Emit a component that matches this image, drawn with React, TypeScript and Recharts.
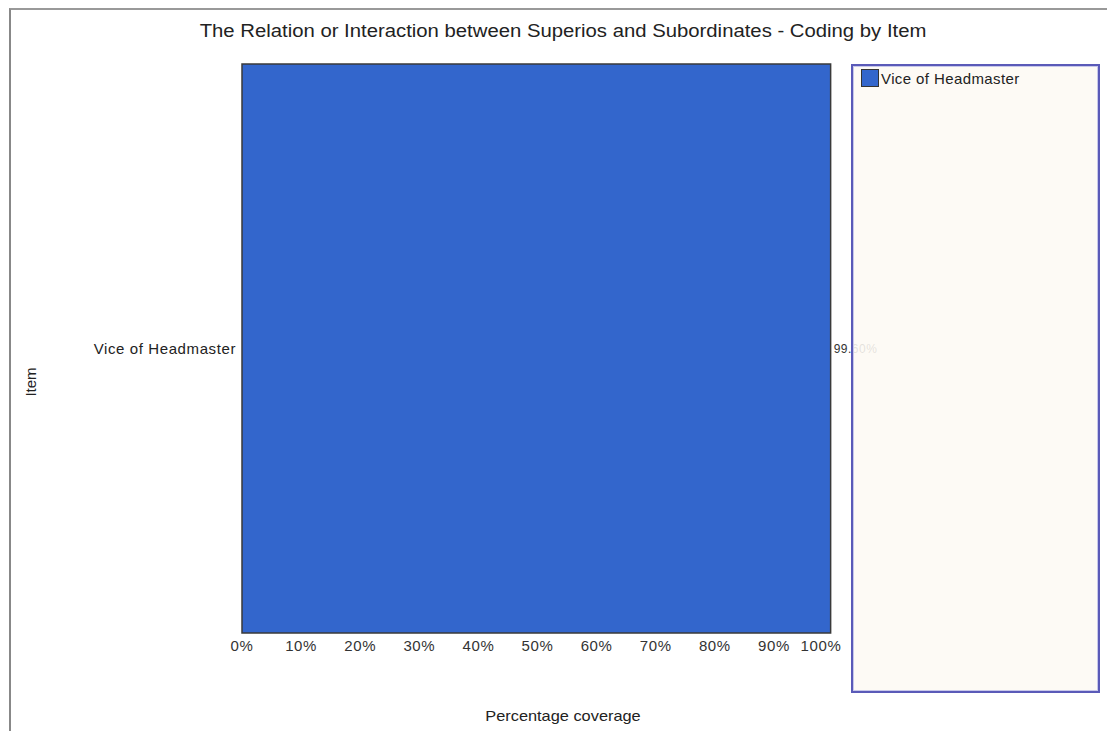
import React from 'react';
import { BarChart, Bar, XAxis, YAxis, LabelList } from 'recharts';

const items = ['Vice of Headmaster'];
const coverage = [99.6];
const xTicks = [0, 10, 20, 30, 40, 50, 60, 70, 80, 90, 100];

const data = items.map((name, i) => ({ name, value: coverage[i] }));

const FONT = '"Liberation Sans", Arial, sans-serif';
const BAR_COLOR = '#3366cc';

const XTick = (props: any) => {
  const { x, y, payload } = props;
  // the last label is pulled in a bit, like in the original
  const dx = payload.value === 100 ? -12 : 0;
  return (
    <text x={x + dx} y={y + 10} textAnchor="middle" fontSize={15} letterSpacing={0.6} fill="#333" fontFamily={FONT}>
      {payload.value}%
    </text>
  );
};

const App = () => {
  return (
    <div style={{ position: 'absolute', left: 0, top: 0, width: 1107, height: 731, background: '#fff', fontFamily: FONT }}>
      {/* frame lines */}
      <div style={{ position: 'absolute', left: 9, top: 8, width: 1098, height: 723, borderTop: '2px solid #999', borderLeft: '2px solid #888' }} />

      <div style={{ position: 'absolute', left: 563, top: 21, transform: 'translateX(-50%) scaleX(1.16)', whiteSpace: 'nowrap', fontSize: 17.5, color: '#222' }}>
        The Relation or Interaction between Superios and Subordinates - Coding by Item
      </div>

      <div style={{ position: 'absolute', left: 0, top: 0 }}>
        <BarChart
          width={1107}
          height={731}
          data={data}
          layout="vertical"
          barCategoryGap={0}
          margin={{ top: 64, right: 274, bottom: 8, left: 10 }}
        >
          <XAxis
            type="number"
            domain={[0, 100]}
            ticks={xTicks}
            interval={0}
            axisLine={false}
            tickLine={false}
            height={90}
            tick={<XTick />}
          />
          <YAxis
            type="category"
            dataKey="name"
            width={232}
            axisLine={false}
            tickLine={false}
            tickSize={0}
            tickMargin={6}
            tick={{ fontSize: 15, fill: '#222', fontFamily: FONT, letterSpacing: 0.6 }}
          />
          <Bar dataKey="value" fill={BAR_COLOR} stroke="#3a3a3a" strokeWidth={1.5} isAnimationActive={false}>
            <LabelList
              dataKey="value"
              position="right"
              offset={3}
              formatter={(v: any) => `${Number(v).toFixed(2)}%`}
              style={{ fontSize: 12, fill: '#333', fontFamily: FONT, letterSpacing: 0.5 }}
            />
          </Bar>
        </BarChart>
      </div>

      {/* legend panel, drawn over the chart */}
      <div
        style={{
          position: 'absolute',
          left: 851,
          top: 64,
          width: 245,
          height: 625,
          background: 'rgba(253, 249, 244, 0.88)',
          border: '2px solid #5a5ab8',
          boxShadow: 'inset 0 0 0 1px #c8c8ea',
        }}
      >
        <div style={{ position: 'absolute', left: 8, top: 3, display: 'flex', alignItems: 'center' }}>
          <span style={{ display: 'inline-block', width: 16, height: 16, background: BAR_COLOR, border: '1.5px solid #333', marginRight: 2 }} />
          <span style={{ fontSize: 15, color: '#222', letterSpacing: 0.4 }}>Vice of Headmaster</span>
        </div>
      </div>

      <div style={{ position: 'absolute', left: 563, top: 707, transform: 'translateX(-50%) scaleX(1.09)', whiteSpace: 'nowrap', fontSize: 15, color: '#222' }}>
        Percentage coverage
      </div>

      <div style={{ position: 'absolute', left: 30, top: 382, transform: 'translate(-50%, -50%) rotate(-90deg)', whiteSpace: 'nowrap', fontSize: 15, color: '#222' }}>
        Item
      </div>
    </div>
  );
};

export default App;
